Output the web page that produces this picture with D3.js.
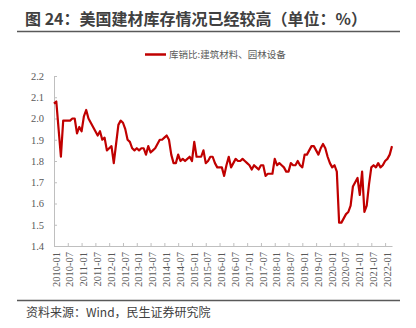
<!DOCTYPE html>
<html>
<head>
<meta charset="utf-8">
<script src="https://cdn.jsdelivr.net/npm/d3@7/dist/d3.min.js"></script>
<style>
  html, body { margin: 0; padding: 0; background: #fff; }
  svg { display: block; }
</style>
</head>
<body>
<svg id="chart" width="416" height="328"></svg>
<script>
// Inventory-to-sales ratio, building materials & garden equipment, monthly from 2010-01
const startYear = 2010;
const ratioValues = [
  2.07, 2.08, 1.95, 1.82, 1.99, 1.99, 1.99, 1.99, 2.00, 2.00, 1.93, 1.96,
  1.94, 2.01, 2.04, 2.00, 1.98, 1.96, 1.94, 1.92, 1.94, 1.90, 1.91, 1.85,
  1.86, 1.87, 1.79, 1.88, 1.97, 1.99, 1.98, 1.95, 1.90, 1.89, 1.86, 1.85,
  1.86, 1.85, 1.86, 1.86, 1.83, 1.87, 1.84, 1.85, 1.86, 1.88, 1.90, 1.90,
  1.91, 1.92, 1.90, 1.83, 1.79, 1.79, 1.83, 1.80, 1.81, 1.80, 1.81, 1.82,
  1.80, 1.89, 1.82, 1.82, 1.82, 1.85, 1.79, 1.80, 1.82, 1.82, 1.79, 1.77,
  1.77, 1.77, 1.73, 1.78, 1.82, 1.77, 1.79, 1.81, 1.80, 1.80, 1.81, 1.80,
  1.79, 1.78, 1.76, 1.78, 1.77, 1.76, 1.78, 1.78, 1.73, 1.74, 1.74, 1.74,
  1.81, 1.78, 1.79, 1.78, 1.77, 1.75, 1.75, 1.79, 1.78, 1.78, 1.80, 1.78,
  1.77, 1.83, 1.83, 1.85, 1.87, 1.87, 1.85, 1.83, 1.86, 1.88, 1.86, 1.82,
  1.79, 1.77, 1.78, 1.75, 1.51, 1.51, 1.53, 1.55, 1.56, 1.59, 1.68, 1.70,
  1.72, 1.64, 1.75, 1.56, 1.59, 1.69, 1.77, 1.78, 1.77, 1.79, 1.77, 1.78,
  1.80, 1.81, 1.83, 1.87
];
const monthLabels = ratioValues.map((_, i) => {
  const y = startYear + Math.floor(i / 12);
  const m = (i % 12) + 1;
  return y + "-" + String(m).padStart(2, "0");
});
const xTickLabels = [
  "2010-01", "2010-07", "2011-01", "2011-07", "2012-01", "2012-07",
  "2013-01", "2013-07", "2014-01", "2014-07", "2015-01", "2015-07",
  "2016-01", "2016-07", "2017-01", "2017-07", "2018-01", "2018-07",
  "2019-01", "2019-07", "2020-01", "2020-07", "2021-01", "2021-07", "2022-01"
];
const yTicks = [1.4, 1.5, 1.6, 1.7, 1.8, 1.9, 2.0, 2.1, 2.2];
const seriesName = "库销比:建筑材料、园林设备";
const titleText = "图 24：美国建材库存情况已经较高（单位：%）";
const sourceText = "资料来源：Wind，民生证券研究院";

const svg = d3.select("#chart");
const axisColor = "#bfbfbf";
const labelColor = "#595959";

// Title and rules
svg.append("text")
  .attr("x", 25).attr("y", 25)
  .attr("font-family", "'Noto Sans CJK SC', sans-serif")
  .attr("font-size", 16).attr("font-weight", "bold")
  .attr("fill", "#404040")
  .text(titleText);
svg.append("line")
  .attr("x1", 17).attr("x2", 400).attr("y1", 31.5).attr("y2", 31.5)
  .attr("stroke", "#595959").attr("stroke-width", 1.5);
svg.append("line")
  .attr("x1", 17).attr("x2", 400).attr("y1", 300.5).attr("y2", 300.5)
  .attr("stroke", "#595959").attr("stroke-width", 1.5);
svg.append("text")
  .attr("x", 26).attr("y", 317)
  .attr("font-family", "'Noto Sans CJK SC', sans-serif")
  .attr("font-size", 12)
  .attr("fill", "#404040")
  .text(sourceText);

// Scales
const x = d3.scalePoint().domain(monthLabels).range([54, 392]);
const y = d3.scaleLinear().domain([1.4, 2.2]).range([246, 76]);

// Y axis
const yAxis = d3.axisLeft(y).tickValues(yTicks).tickFormat(d3.format(".1f"))
  .tickSize(-3).tickPadding(10);
const gy = svg.append("g").attr("transform", "translate(54,0)").call(yAxis);
gy.select(".domain").attr("stroke", axisColor);
gy.selectAll(".tick line").attr("stroke", axisColor);
gy.selectAll(".tick text")
  .attr("font-family", "'Liberation Serif', 'Times New Roman', serif")
  .attr("font-size", 10.5).attr("fill", labelColor);

// X axis
const xAxis = d3.axisBottom(x).tickValues(xTickLabels).tickSize(-3).tickSizeOuter(0);
const gx = svg.append("g").attr("transform", "translate(0,246)").call(xAxis);
gx.select(".domain").attr("stroke", axisColor);
gx.selectAll(".tick line").attr("stroke", axisColor);
gx.selectAll(".tick text")
  .attr("font-family", "'Liberation Serif', 'Times New Roman', serif")
  .attr("font-size", 10.5).attr("fill", labelColor)
  .attr("text-anchor", "end")
  .attr("transform", "rotate(-90)")
  .attr("x", -6).attr("y", 1.5).attr("dy", "0.35em");

// Series line
const line = d3.line()
  .x((d, i) => x(monthLabels[i]))
  .y(d => y(d));
svg.append("path")
  .datum(ratioValues)
  .attr("d", line)
  .attr("fill", "none")
  .attr("stroke", "#c00000")
  .attr("stroke-width", 2.2)
  .attr("stroke-linejoin", "round");

// Legend
svg.append("line")
  .attr("x1", 145).attr("x2", 166).attr("y1", 54.5).attr("y2", 54.5)
  .attr("stroke", "#c00000").attr("stroke-width", 2.5);
svg.append("text")
  .attr("x", 169).attr("y", 58)
  .attr("font-family", "'Noto Sans CJK SC', sans-serif")
  .attr("font-size", 9.5)
  .attr("fill", labelColor)
  .text(seriesName);
</script>
</body>
</html>
